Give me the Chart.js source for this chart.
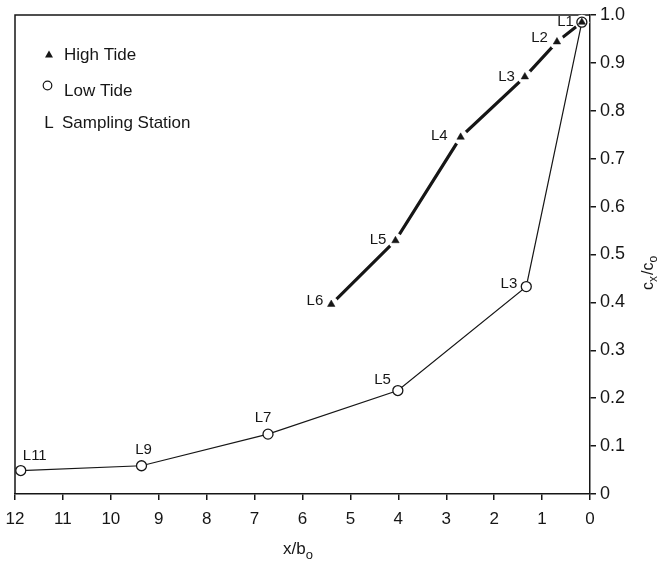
<!DOCTYPE html>
<html>
<head>
<meta charset="utf-8">
<script src="https://cdn.jsdelivr.net/npm/chart.js@4/dist/chart.umd.min.js"></script>
<style>
  html, body { margin: 0; padding: 0; background: #fff; }
  #wrap { width: 665px; height: 561px; }
</style>
</head>
<body>
<div id="wrap"><canvas id="c"></canvas></div>
<script>
// Relative concentration c_x/c_o against distance x/b_o, by sampling station
const highTideX = [0.17, 0.69, 1.36, 2.70, 4.06, 5.40];
const highTideY = [0.985, 0.944, 0.871, 0.745, 0.529, 0.396];
const highTideStations = ['L1', 'L2', 'L3', 'L4', 'L5', 'L6'];

const lowTideX = [0.17, 1.33, 4.01, 6.72, 9.36, 11.88];
const lowTideY = [0.985, 0.433, 0.216, 0.125, 0.059, 0.049];
const lowTideStations = ['L1', 'L3', 'L5', 'L7', 'L9', 'L11'];

const xTickValues = [0, 1, 2, 3, 4, 5, 6, 7, 8, 9, 10, 11, 12];
const yTickValues = [0, 0.1, 0.2, 0.3, 0.4, 0.5, 0.6, 0.7, 0.8, 0.9, 1.0];

const legendItems = ['High Tide', 'Low Tide', 'Sampling Station'];

// Station label placement: [dx, dy, align] relative to the marker
const highLabelPlace = [[-8, 0, 'right'], [-9, -4, 'right'], [-10, 0, 'right'], [-13, -1, 'right'], [-9, -1, 'right'], [-8, -3, 'right']];
const lowLabelPlace = [null, [-9, -3, 'right'], [-7, -11, 'right'], [-5, -16, 'center'], [2, -16, 'center'], [14, -15, 'center']];

const INK = '#161616';
const FONT = '"Liberation Sans", Arial, Helvetica, sans-serif';

const toPoints = (xs, ys) => xs.map((x, i) => ({ x: x, y: ys[i] }));
const highPts = toPoints(highTideX, highTideY);
const lowPts = toPoints(lowTideX, lowTideY);

function drawRich(ctx, parts, size, subSize, subDrop) {
  let x = 0;
  for (const p of parts) {
    ctx.font = (p.sub ? subSize : size) + 'px ' + FONT;
    ctx.fillText(p.t, x, p.sub ? subDrop : 0);
    x += ctx.measureText(p.t).width + (p.gap || 0);
  }
}

const annotations = {
  id: 'annotations',
  beforeDatasetsDraw(chart) {
    const { ctx, chartArea: a } = chart;
    ctx.save();
    ctx.strokeStyle = INK;
    ctx.lineWidth = 1.5;
    ctx.beginPath();
    ctx.moveTo(a.left, a.bottom);
    ctx.lineTo(a.left, a.top);
    ctx.lineTo(a.right, a.top);
    ctx.stroke();
    ctx.restore();
  },
  afterDatasetsDraw(chart) {
    const { ctx } = chart;
    const xs = chart.scales.x, ys = chart.scales.y;
    ctx.save();
    ctx.fillStyle = INK;
    ctx.font = '15px ' + FONT;
    ctx.textBaseline = 'middle';
    const put = (pts, names, place) => {
      pts.forEach((p, i) => {
        const pl = place[i];
        if (!pl) return;
        ctx.textAlign = pl[2];
        ctx.fillText(names[i], xs.getPixelForValue(p.x) + pl[0], ys.getPixelForValue(p.y) + pl[1]);
      });
    };
    put(highPts, highTideStations, highLabelPlace);
    put(lowPts, lowTideStations, lowLabelPlace);

    // Key
    ctx.font = '17px ' + FONT;
    ctx.textAlign = 'left';
    ctx.fillText(legendItems[0], 64, 55);
    ctx.fillText(legendItems[1], 64, 91);
    ctx.fillText(legendItems[2], 62, 123);
    ctx.beginPath();
    ctx.moveTo(49, 50.5);
    ctx.lineTo(53, 57.5);
    ctx.lineTo(45, 57.5);
    ctx.closePath();
    ctx.fill();
    ctx.strokeStyle = INK;
    ctx.lineWidth = 1.2;
    ctx.beginPath();
    ctx.arc(47.5, 85.5, 4.3, 0, Math.PI * 2);
    ctx.stroke();
    ctx.textAlign = 'center';
    ctx.fillText('L', 49, 123);

    // Axis titles
    ctx.textAlign = 'left';
    ctx.textBaseline = 'alphabetic';
    ctx.save();
    ctx.translate(283, 554);
    drawRich(ctx, [{ t: 'x/b' }, { t: 'o', sub: true }], 17, 13, 5);
    ctx.restore();
    ctx.save();
    ctx.translate(653, 290);
    ctx.rotate(-Math.PI / 2);
    drawRich(ctx, [{ t: 'c' }, { t: 'x', sub: true, gap: 1 }, { t: '/' }, { t: 'c' }, { t: 'o', sub: true }], 16, 12, 4);
    ctx.restore();
    ctx.restore();
  }
};

new Chart(document.getElementById('c'), {
  type: 'scatter',
  data: {
    datasets: [
      {
        label: 'High Tide markers',
        data: highPts,
        showLine: false,
        pointStyle: 'triangle',
        pointRadius: 4.3,
        pointBackgroundColor: INK,
        pointBorderColor: INK,
        pointBorderWidth: 0.5,
        order: 0
      },
      {
        label: 'Low Tide',
        data: lowPts,
        showLine: true,
        borderColor: INK,
        borderWidth: 1.2,
        pointStyle: 'circle',
        pointRadius: 5,
        pointBackgroundColor: '#fff',
        pointBorderColor: INK,
        pointBorderWidth: 1.3,
        order: 1
      },
      {
        label: 'High Tide halo',
        data: highPts,
        showLine: false,
        pointStyle: 'circle',
        pointRadius: 7.5,
        pointBackgroundColor: '#fff',
        pointBorderWidth: 0,
        order: 2
      },
      {
        label: 'High Tide',
        data: highPts,
        showLine: true,
        borderColor: INK,
        borderWidth: 3.2,
        pointRadius: 0,
        order: 3
      }
    ]
  },
  options: {
    responsive: true,
    maintainAspectRatio: false,
    animation: false,
    clip: false,
    events: [],
    layout: { padding: { left: 15, top: 15, right: 0, bottom: 0 } },
    plugins: { legend: { display: false }, tooltip: { enabled: false } },
    scales: {
      x: {
        type: 'linear',
        reverse: true,
        min: 0,
        max: 12,
        afterBuildTicks: s => { s.ticks = xTickValues.map(v => ({ value: v })); },
        afterFit: s => { s.height = 67; },
        ticks: { color: INK, font: { family: FONT, size: 17 }, padding: 9, maxRotation: 0, autoSkip: false },
        grid: { drawOnChartArea: false, drawTicks: true, tickLength: 6, color: INK, lineWidth: 1.5 },
        border: { display: true, color: INK, width: 1.5 }
      },
      y: {
        type: 'linear',
        position: 'right',
        min: 0,
        max: 1,
        afterBuildTicks: s => { s.ticks = yTickValues.map(v => ({ value: v })); },
        afterFit: s => { s.width = 75; },
        ticks: {
          color: INK,
          font: { family: FONT, size: 18 },
          padding: 4,
          autoSkip: false,
          callback: v => (v === 0 ? '0' : Number(v).toFixed(1))
        },
        grid: { drawOnChartArea: false, drawTicks: true, tickLength: 6, color: INK, lineWidth: 1.5 },
        border: { display: true, color: INK, width: 1.5 }
      }
    }
  },
  plugins: [annotations]
});
</script>
</body>
</html>
